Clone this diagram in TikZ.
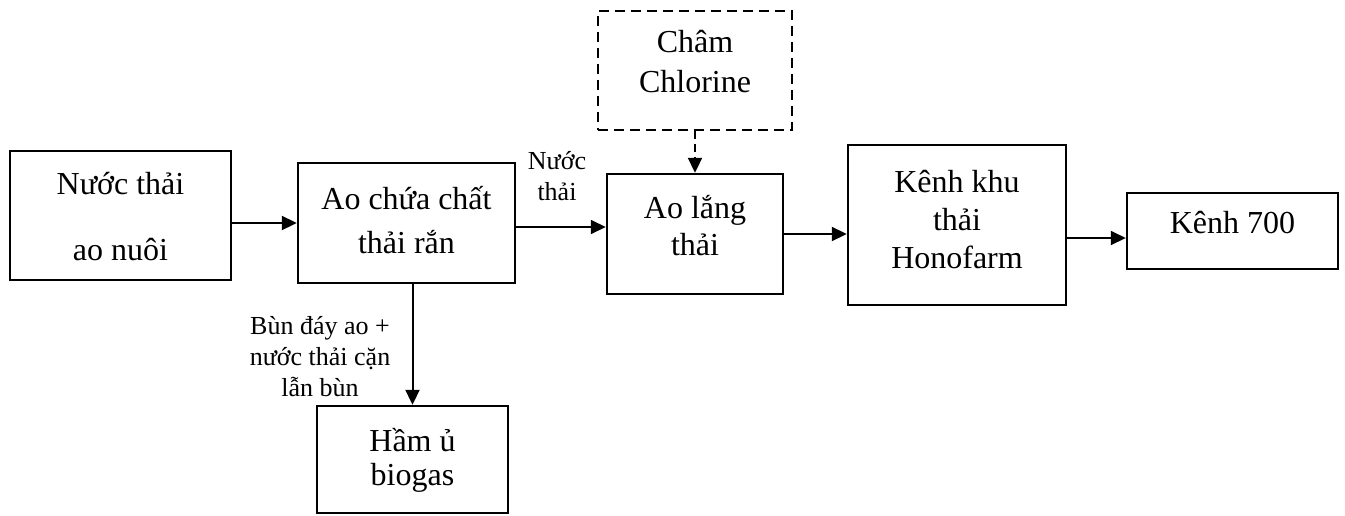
\documentclass[tikz,border=0pt]{standalone}
\usepackage{fontspec}
\setmainfont{Liberation Serif}
\usetikzlibrary{arrows.meta}
\begin{document}
\begin{tikzpicture}[x=1pt,y=-1pt,
  box/.style={draw, line width=2.4pt, inner sep=0pt},
  dbox/.style={box, dash pattern=on 10pt off 6pt},
  txt/.style={align=center, inner sep=0pt, font=\fontsize{32}{37}\selectfont},
  lbl/.style={align=center, inner sep=0pt, font=\fontsize{26}{31}\selectfont},
  arr/.style={line width=2pt, -{Triangle[length=15pt,width=14pt]}}]
\useasboundingbox (0,0) rectangle (1345,515);

% process boxes
\node[box, minimum width=221pt, minimum height=129pt] (b1) at (120.5,215.5) {};
\node[box, minimum width=217pt, minimum height=120pt] (b2) at (406.5,223) {};
\node[box, minimum width=176pt, minimum height=120pt] (b3) at (695,234) {};
\node[dbox, minimum width=194pt, minimum height=119pt] (cl) at (695,70.5) {};
\node[box, minimum width=218pt, minimum height=160pt] (b4) at (957,225) {};
\node[box, minimum width=211pt, minimum height=76pt] (b5) at (1232.5,231) {};
\node[box, minimum width=191pt, minimum height=107pt] (b6) at (412.5,459.5) {};

% box texts
\node[txt, font=\fontsize{32}{66}\selectfont] (t1) at (120.5,216.5) {Nước thải\\ao nuôi};
\node[txt, font=\fontsize{32}{44}\selectfont] (t2) at (406.5,220) {Ao chứa chất\\thải rắn};
\node[txt] (t3) at (695,226) {Ao lắng\\thải};
\node[txt, font=\fontsize{32}{40}\selectfont] (tc) at (695,62) {Châm\\Chlorine};
\node[txt, font=\fontsize{32}{38}\selectfont] (t4) at (957,220) {Kênh khu\\thải\\Honofarm};
\node[txt] (t5) at (1232.5,223) {Kênh 700};
\node[txt, font=\fontsize{32}{34}\selectfont] (t6) at (412.5,460) {Hầm ủ\\biogas};

% flow labels
\node[lbl] (l1) at (557,176) {Nước\\thải};
\node[lbl] (l2) at (320,357) {Bùn đáy ao +\\nước thải cặn\\lẫn bùn};

% connectors
\draw[arr] (b1.east |- b2.west) -- (b2.west);
\draw[arr, line width=1.6pt] ([yshift=-4pt]b2.east) -- ([yshift=-4pt]b2.east -| b3.west);
\draw[arr] (b3.east) -- (b3.east -| b4.west);
\draw[arr, line width=1.6pt] ([yshift=-7pt]b5.west -| b4.east) -- ([yshift=-7pt]b5.west);
\draw[arr, dash pattern=on 8pt off 5pt] (cl.south) -- (b3.north);
\draw[arr] (b6.north |- b2.south) -- (b6.north);
\end{tikzpicture}
\end{document}
